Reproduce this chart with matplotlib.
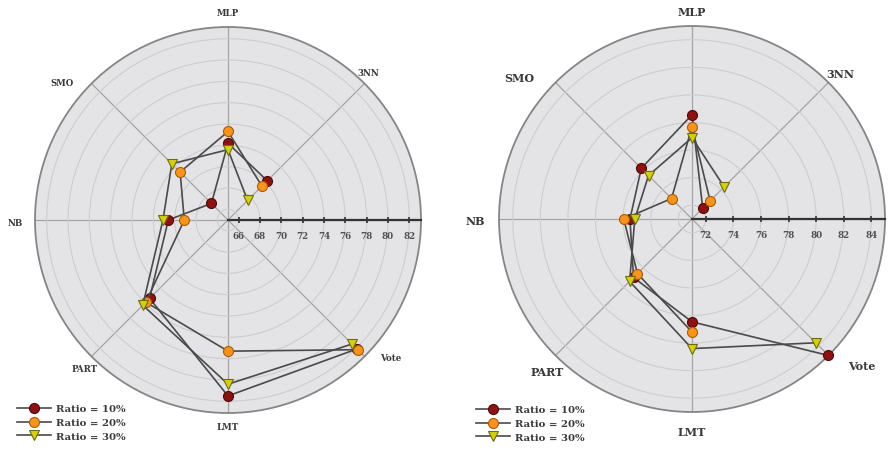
import numpy as np
import matplotlib
matplotlib.use('Agg')
import matplotlib.pyplot as plt
from matplotlib.transforms import offset_copy
from matplotlib.lines import Line2D

# ---------------- data ----------------
categories = ['3NN', 'MLP', 'SMO', 'NB', 'PART', 'LMT', 'Vote']
series_labels = ['Ratio = 10%', 'Ratio = 20%', 'Ratio = 30%']

left_r10 = [70.2, 72.2, 67.2, 70.6, 75.4, 81.5, 82.1]
left_r20 = [69.5, 73.3, 71.35, 69.1, 75.9, 77.3, 82.2]
left_r30 = [67.6, 71.6, 72.45, 71.1, 76.3, 80.4, 81.45]

right_r10 = [72.1, 78.56, 76.2, 75.5, 77.0, 78.46, 85.0]
right_r20 = [72.86, 77.7, 73.1, 75.95, 76.6, 79.2, np.nan]
right_r30 = [74.3, 76.9, 75.46, 75.15, 77.4, 80.4, 83.7]

left_ticks = [66, 68, 70, 72, 74, 76, 78, 80, 82]
right_ticks = [72, 74, 76, 78, 80, 82, 84]
left_rlim = (65, 83.1)
right_rlim = (71, 85)

# ---------------- style ----------------
W, H = 889, 452
fig = plt.figure(figsize=(W / 100, H / 100), dpi=100)
fig.patch.set_facecolor('white')
FONT = 'DejaVu Serif'
TXT = '#3a3a3a'

styles = [
    dict(marker='o', mfc='#8e1212', mec='#4e0808', ms=7.2),
    dict(marker='o', mfc='#f7941d', mec='#a95c0c', ms=7.2),
    dict(marker='v', mfc='#d4cf14', mec='#6f6c10', ms=7.4),
]
LINE_C = '#4a4a4a'

cat_angles = np.deg2rad(45 * (np.arange(len(categories)) + 1))
spoke_angles = np.deg2rad(np.arange(0, 360, 45))


def make_panel(rect, data, ticks, rlim, label_pos, cat_fs, leg_anchor):
    ax = fig.add_axes(rect, projection='polar')
    ax.set_facecolor('#e4e4e6')
    ax.set_ylim(*rlim)
    ax.set_yticks(ticks)
    ax.set_yticklabels([])
    ax.set_xticks(spoke_angles)
    ax.set_xticklabels([])
    ax.xaxis.grid(True, color='#a4a4a4', lw=0.9)
    ax.yaxis.grid(True, color='#cdcdcd', lw=0.8)
    ax.tick_params(axis='x', length=4, direction='out', color='#888888', width=1)
    ax.tick_params(axis='y', length=0)
    ax.spines['polar'].set_edgecolor('#858585')
    ax.spines['polar'].set_linewidth(1.3)

    # radial axis line with ticks
    ax.plot([0, 0], [rlim[0], rlim[1]], color='#333333', lw=1.6, clip_on=False, zorder=3)
    ax.plot(np.zeros(len(ticks)), ticks, ls='none', marker='|', ms=4, mew=1.2,
            color='#333333', zorder=3, clip_on=False)
    tr = offset_copy(ax.transData, fig=fig, x=0, y=-11, units='points')
    for t in ticks:
        ax.text(0, t, str(t), transform=tr, ha='center', va='center',
                fontsize=6.3, fontweight='bold', family=FONT, color='#505050')

    handles = []
    for vals, st, lab in zip(data, styles, series_labels):
        ln, = ax.plot(cat_angles, vals, color=LINE_C, lw=1.2, mew=0.8,
                      clip_on=False, zorder=4, label=lab, **st)
        handles.append(ln)

    for cat, (x, y) in zip(categories, label_pos):
        ax.text(x, y, cat, transform=ax.transAxes, ha='center', va='center',
                fontsize=cat_fs, fontweight='bold', family=FONT, color=TXT)

    leg = fig.legend(handles=handles, loc='center left', bbox_to_anchor=leg_anchor,
                     bbox_transform=fig.transFigure, frameon=False,
                     prop=dict(family=FONT, weight='bold', size=7.3),
                     handlelength=3.4, handletextpad=0.4, labelspacing=0.45,
                     borderpad=0, borderaxespad=0)
    for t in leg.get_texts():
        t.set_color(TXT)
    return ax


R = 193
def rect_for(cx, cy):
    return [(cx - R) / W, (H - cy - R) / H, 2 * R / W, 2 * R / H]

def pos_for(cx, cy, pts):
    return [(0.5 + (px - cx) / (2 * R), 0.5 - (py - cy) / (2 * R)) for px, py in pts]

left_label_px = [(368, 74), (228, 14), (62, 83), (15, 224), (85, 370), (228, 428), (391, 359)]
right_label_px = [(840, 74), (692, 13), (519, 78), (475, 222), (547, 373), (692, 433), (862, 366)]

make_panel(rect_for(228, 221), [left_r10, left_r20, left_r30], left_ticks, left_rlim,
           pos_for(228, 221, left_label_px), 6.2, (17 / W, (H - 423.5) / H))
make_panel(rect_for(692, 220), [right_r10, right_r20, right_r30], right_ticks, right_rlim,
           pos_for(692, 220, right_label_px), 8.0, (476 / W, (H - 424.5) / H))

fig.savefig('out.png', dpi=100, facecolor='white')
